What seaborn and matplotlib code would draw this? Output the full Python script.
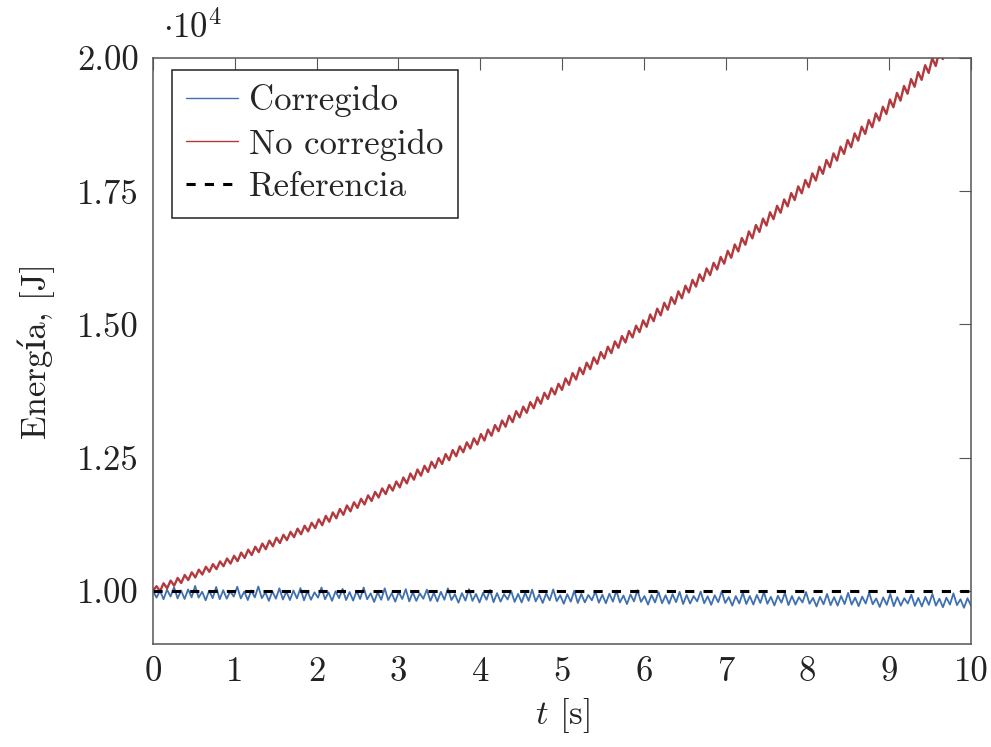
import numpy as np
import pandas as pd
import matplotlib
matplotlib.use("Agg")
import matplotlib.pyplot as plt
import seaborn as sns

# ---- data (energies in J) ----
no_corregido_J = [
    10000, 10085, 9990, 10140, 10045, 10190, 10095, 10240, 10145, 10295, 10200, 10345,
    10250, 10395, 10305, 10450, 10355, 10500, 10405, 10550, 10460, 10605, 10510, 10655,
    10555, 10715, 10615, 10770, 10670, 10825, 10725, 10885, 10780, 10940, 10835, 10995,
    10895, 11050, 10950, 11105, 11005, 11165, 11060, 11220, 11115, 11275, 11175,
    11340, 11230, 11405, 11295, 11470, 11360, 11535, 11425, 11600, 11490, 11660, 11555,
    11725, 11620, 11790, 11685, 11855, 11750, 11920, 11815, 11985, 11880, 12050,
    11940, 12125, 12015, 12200, 12085, 12275, 12160, 12345, 12230, 12420, 12305, 12490,
    12380, 12565, 12450, 12640, 12525, 12710, 12600, 12785, 12670, 12860, 12745,
    12940, 12820, 13025, 12910, 13110, 12995, 13195, 13080, 13285, 13165, 13370, 13255,
    13455, 13340, 13540, 13425, 13630, 13510, 13715, 13600, 13800, 13685, 13885, 13770,
    13985, 13865, 14085, 13965, 14185, 14065, 14280, 14160, 14380, 14260, 14480, 14360,
    14580, 14460, 14680, 14560, 14780, 14660, 14875, 14755, 14975, 14855, 15075,
    14955, 15185, 15060, 15295, 15170, 15405, 15275, 15510, 15385, 15620, 15490, 15725,
    15600, 15835, 15710, 15940, 15815, 16050, 15925, 16155, 16030, 16265, 16140,
    16380, 16250, 16500, 16370, 16620, 16495, 16745, 16615, 16865, 16735, 16985, 16855,
    17105, 16975, 17225, 17095, 17345, 17215, 17465, 17335, 17590, 17460, 17710,
    17575, 17835, 17700, 17960, 17825, 18085, 17950, 18210, 18075, 18335, 18200, 18460,
    18325, 18585, 18450, 18710, 18575, 18835, 18700, 18960, 18825, 19085, 18950,
    19220, 19075, 19345, 19200, 19475, 19330, 19605, 19460, 19735, 19590, 19865, 19720,
    19995, 19850, 20125, 19980, 20255, 20105, 20380, 20235, 20510, 20365, 20640, 20495,
]

corregido_J = [
    10000, 9870, 10000, 9840, 10020, 9890,
    10065, 9855, 10005, 9845, 10025, 9875,
    10090, 9870, 9980, 9820, 10000, 9860,
    10070, 9840, 10010, 9850, 9990, 9890,
    10075, 9855, 9985, 9825, 10005, 9875,
    10080, 9860, 9970, 9810, 9990, 9850,
    10045, 9835, 9985, 9825, 10005, 9855,
    10050, 9820, 9990, 9830, 9970, 9870,
    10060, 9840, 9970, 9810, 9990, 9860,
    10035, 9825, 9975, 9815, 9995, 9845,
    10060, 9840, 9950, 9790, 9970, 9830,
    10045, 9825, 9955, 9795, 9975, 9845,
    10030, 9800, 9970, 9810, 9950, 9850,
    10020, 9810, 9960, 9800, 9980, 9830,
    10045, 9825, 9935, 9775, 9955, 9815,
    10030, 9810, 9940, 9780, 9960, 9830,
    10015, 9785, 9955, 9795, 9935, 9835,
    10000, 9790, 9940, 9780, 9960, 9810,
    10020, 9800, 9930, 9770, 9950, 9820,
    10025, 9805, 9915, 9755, 9935, 9795,
    10000, 9770, 9940, 9780, 9920, 9820,
    9985, 9775, 9925, 9765, 9945, 9795,
    10000, 9780, 9910, 9750, 9930, 9800,
    10010, 9790, 9900, 9740, 9920, 9780,
    9975, 9765, 9915, 9755, 9935, 9785,
    9980, 9750, 9920, 9760, 9900, 9800,
    9985, 9765, 9895, 9735, 9915, 9785,
    9990, 9770, 9880, 9720, 9900, 9760,
    9960, 9750, 9900, 9740, 9920, 9770,
    9975, 9755, 9885, 9725, 9905, 9775,
    9960, 9730, 9900, 9740, 9880, 9780,
    9975, 9755, 9865, 9705, 9885, 9745,
    9940, 9730, 9880, 9720, 9900, 9750,
    9960, 9740, 9870, 9710, 9890, 9760,
    9965, 9745, 9855, 9695, 9875, 9735,
    9940, 9710, 9880, 9720, 9860, 9760,
    9925, 9715, 9865, 9705, 9885, 9735,
    9940, 9720, 9850, 9690, 9870, 9740,
    9950, 9730, 9840, 9680, 9860, 9720,
]

referencia_J = [10000, 10000]
referencia_t = [0.0, 10.0]
t_start, t_end = 0.0, 10.0

x_ticks = [0, 1, 2, 3, 4, 5, 6, 7, 8, 9, 10]
y_ticks = [1.00, 1.25, 1.50, 1.75, 2.00]
y_tick_labels = ["1.00", "1.25", "1.50", "1.75", "2.00"]
labels = ["Corregido", "No corregido", "Referencia"]
scale = 1e4

# ---- style ----
sns.set_style("white")
plt.rcParams["font.family"] = ["cmr10", "DejaVu Serif"]
plt.rcParams["mathtext.fontset"] = "cm"
plt.rcParams["axes.formatter.use_mathtext"] = True
plt.rcParams["axes.unicode_minus"] = False

FS = 25
blue = "#3f70b2"
red = "#b23a3e"
frame = "#555555"
txt = "#222222"

fig = plt.figure(figsize=(9.91, 7.47), dpi=100)
ax = fig.add_axes([153 / 991, 1 - 644 / 747, 818 / 991, 586 / 747])

df_c = pd.DataFrame({"t": np.linspace(t_start, t_end, len(corregido_J)),
                     "E": np.array(corregido_J) / scale})
df_n = pd.DataFrame({"t": np.linspace(t_start, t_end, len(no_corregido_J)),
                     "E": np.array(no_corregido_J) / scale})
df_r = pd.DataFrame({"t": referencia_t, "E": np.array(referencia_J) / scale})

sns.lineplot(data=df_c, x="t", y="E", ax=ax, color=blue, lw=1.3,
             label=labels[0], estimator=None, sort=False)
sns.lineplot(data=df_n, x="t", y="E", ax=ax, color=red, lw=1.7,
             label=labels[1], estimator=None, sort=False)
sns.lineplot(data=df_r, x="t", y="E", ax=ax, color="black", lw=2.2,
             linestyle=(0, (3, 3)), label=labels[2], estimator=None, sort=False)

ax.set_xlim(0, 10)
ax.set_ylim(0.90, 2.00)
ax.set_xticks(x_ticks)
ax.set_xticklabels([str(v) for v in x_ticks])
ax.set_yticks(y_ticks)
ax.set_yticklabels(y_tick_labels)

for s in ax.spines.values():
    s.set_visible(True)
    s.set_color(frame)
    s.set_linewidth(1.1)

ax.tick_params(axis="both", which="major", direction="in", length=8.5, width=0.8,
               color=frame, top=True, right=True, labelsize=FS, labelcolor=txt)
ax.tick_params(axis="y", pad=10)
ax.tick_params(axis="x", pad=9)

ax.set_xlabel(r"$t$ [s]", fontsize=FS, color=txt, labelpad=6)
ax.set_ylabel("Energía, [J]", fontsize=FS, color=txt, labelpad=16)

ax.text(0.012, 1.022, r"$\cdot 10^4$", transform=ax.transAxes, fontsize=FS,
        color=txt, ha="left", va="bottom")

leg = ax.legend(loc="upper left", bbox_to_anchor=(0.023, 0.98), borderaxespad=0,
                fontsize=FS, frameon=True, fancybox=False, framealpha=1,
                edgecolor=txt, handlelength=1.5, handletextpad=0.3,
                labelspacing=0.32, borderpad=0.42)
leg.get_frame().set_linewidth(1.1)
for h in leg.get_lines()[:2]:
    h.set_linewidth(1.0)

fig.savefig("out.png", dpi=100)
